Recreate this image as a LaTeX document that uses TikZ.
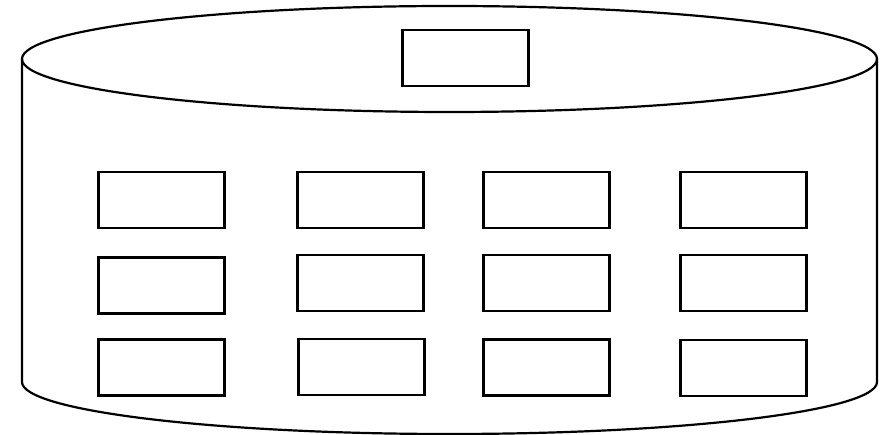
\documentclass[tikz,border=0pt]{standalone}
\usepackage{tikz}

\tikzset{
    slot/.style={draw, line width=2.2pt, minimum width=126pt, minimum height=56pt, inner sep=0pt},
}

\begin{document}
\begin{tikzpicture}[x=1pt, y=1pt]
        \useasboundingbox (0,0) rectangle (882,435);

        % Cylinder
        \draw[line width=2.2pt] (449.5,376) ellipse [x radius=427.5, y radius=53];
        \draw[line width=2.2pt] (22,376) -- (22,53)
            arc[start angle=180, end angle=360, x radius=427.5, y radius=52] -- (877,376);

        % Top Box
        \node[slot] (top) at (465.5,377) {};

        % First Row
        \node[slot] (r1c1) at (161.5,235) {};
        \node[slot] (r1c2) at (360.5,235) {};
        \node[slot] (r1c3) at (546.5,235) {};
        \node[slot] (r1c4) at (743.5,235) {};

        % Second Row
        \node[slot] (r2c1) at (161.5,149.5) {};
        \node[slot] (r2c2) at (360.5,152) {};
        \node[slot] (r2c3) at (546.5,152) {};
        \node[slot] (r2c4) at (743.5,152) {};

        % Third Row
        \node[slot] (r3c1) at (161.5,67.5) {};
        \node[slot] (r3c2) at (361.5,68) {};
        \node[slot] (r3c3) at (546.5,67.5) {};
        \node[slot] (r3c4) at (743.5,67) {};
    \end{tikzpicture}
\end{document}
